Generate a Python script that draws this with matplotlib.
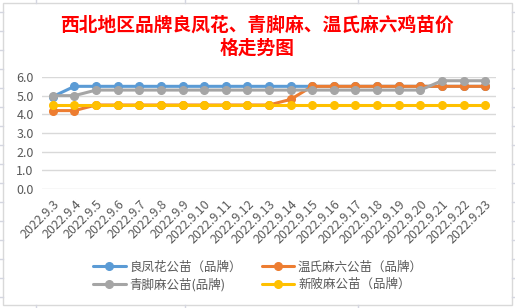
import matplotlib
matplotlib.use("Agg")
import matplotlib.pyplot as plt
from matplotlib.patches import Rectangle
from matplotlib.lines import Line2D

plt.rcParams['font.family'] = ['Noto Sans CJK SC', 'DejaVu Sans']

# data
dates = ['2022.9.3', '2022.9.4', '2022.9.5', '2022.9.6', '2022.9.7', '2022.9.8', '2022.9.9',
         '2022.9.10', '2022.9.11', '2022.9.12', '2022.9.13', '2022.9.14', '2022.9.15',
         '2022.9.16', '2022.9.17', '2022.9.18', '2022.9.19', '2022.9.20', '2022.9.21',
         '2022.9.22', '2022.9.23']
liangfenghua = [4.95, 5.5, 5.5, 5.5, 5.5, 5.5, 5.5, 5.5, 5.5, 5.5, 5.5, 5.5, 5.5,
                5.5, 5.5, 5.5, 5.5, 5.5, 5.5, 5.5, 5.5]
wenshi = [4.2, 4.2, 4.5, 4.5, 4.5, 4.5, 4.5, 4.5, 4.5, 4.5, 4.5, 4.8, 5.5,
          5.5, 5.5, 5.5, 5.5, 5.5, 5.5, 5.5, 5.5]
qingjiao = [5.0, 5.0, 5.3, 5.3, 5.3, 5.3, 5.3, 5.3, 5.3, 5.3, 5.3, 5.3, 5.3,
            5.3, 5.3, 5.3, 5.3, 5.3, 5.8, 5.8, 5.8]
xinxia = [4.5] * 21

names = ['良凤花公苗（品牌）', '温氏麻六公苗（品牌）', '青脚麻公苗(品牌)', '新陂麻公苗（品牌）']
colors = ['#5B9BD5', '#ED7D31', '#A5A5A5', '#FFC000']
y_ticks = [0.0, 1.0, 2.0, 3.0, 4.0, 5.0, 6.0]

W, H = 515, 308
fig = plt.figure(figsize=(W / 100, H / 100), dpi=100)

# spreadsheet grid peeking out around the chart
grid_c = '#D4D6E0'
for y in [12, 31, 50, 69, 88, 107, 126, 145, 164, 183, 202, 221, 240, 259, 278, 297]:
    for x0, x1 in [(0, 3), (512, 515)]:
        fig.add_artist(Line2D([x0 / W, x1 / W], [1 - y / H, 1 - y / H], color=grid_c, lw=1))
for x in [36, 185, 358]:
    for y0, y1 in [(0, 3), (305, 308)]:
        fig.add_artist(Line2D([x / W, x / W], [1 - y0 / H, 1 - y1 / H], color=grid_c, lw=1))

# chart border
fig.add_artist(Rectangle((3 / W, 3 / H), 509 / W, 302 / H, transform=fig.transFigure,
                         fill=False, edgecolor='#D9D9D9', lw=1))

ax = fig.add_axes([42 / W, 1 - 189 / H, 454 / W, 112 / H])
x = list(range(len(dates)))
lines = []
for vals, name, c in zip([liangfenghua, wenshi, qingjiao, xinxia], names, colors):
    ln, = ax.plot(x, vals, color=c, lw=2.2, marker='o', markersize=5.5, label=name,
                  solid_capstyle='round')
    lines.append(ln)

ax.set_xlim(-0.5, len(dates) - 0.5)
ax.set_ylim(0, 6.0)
ax.set_yticks(y_ticks)
ax.set_yticklabels(['%.1f' % v for v in y_ticks])
ax.set_xticks(x)
ax.set_xticklabels(dates, rotation=45, ha='right', rotation_mode='anchor')
ax.tick_params(length=0, labelsize=9, labelcolor='#595959', pad=6)
ax.grid(axis='y', color='#D9D9D9', lw=1)
ax.set_axisbelow(True)
for s in ax.spines.values():
    s.set_visible(False)

fig.text(257 / W, 1 - 25 / H, '西北地区品牌良凤花、青脚麻、温氏麻六鸡苗价', color='#FF0000',
         fontsize=13.5, fontweight='bold', ha='center', va='center')
fig.text(257 / W, 1 - 48 / H, '格走势图', color='#FF0000',
         fontsize=13.5, fontweight='bold', ha='center', va='center')

# legend is filled column by column, so reorder for the row layout
order = [0, 2, 1, 3]
fig.legend([lines[i] for i in order], [names[i] for i in order], ncol=2,
           loc='center', bbox_to_anchor=(258 / W, 1 - 276 / H), frameon=False,
           fontsize=9, labelcolor='#595959', handlelength=2.6, handletextpad=0.3,
           columnspacing=1.6, labelspacing=0.35, borderpad=0)

fig.savefig('out.png', dpi=100, facecolor='white')
